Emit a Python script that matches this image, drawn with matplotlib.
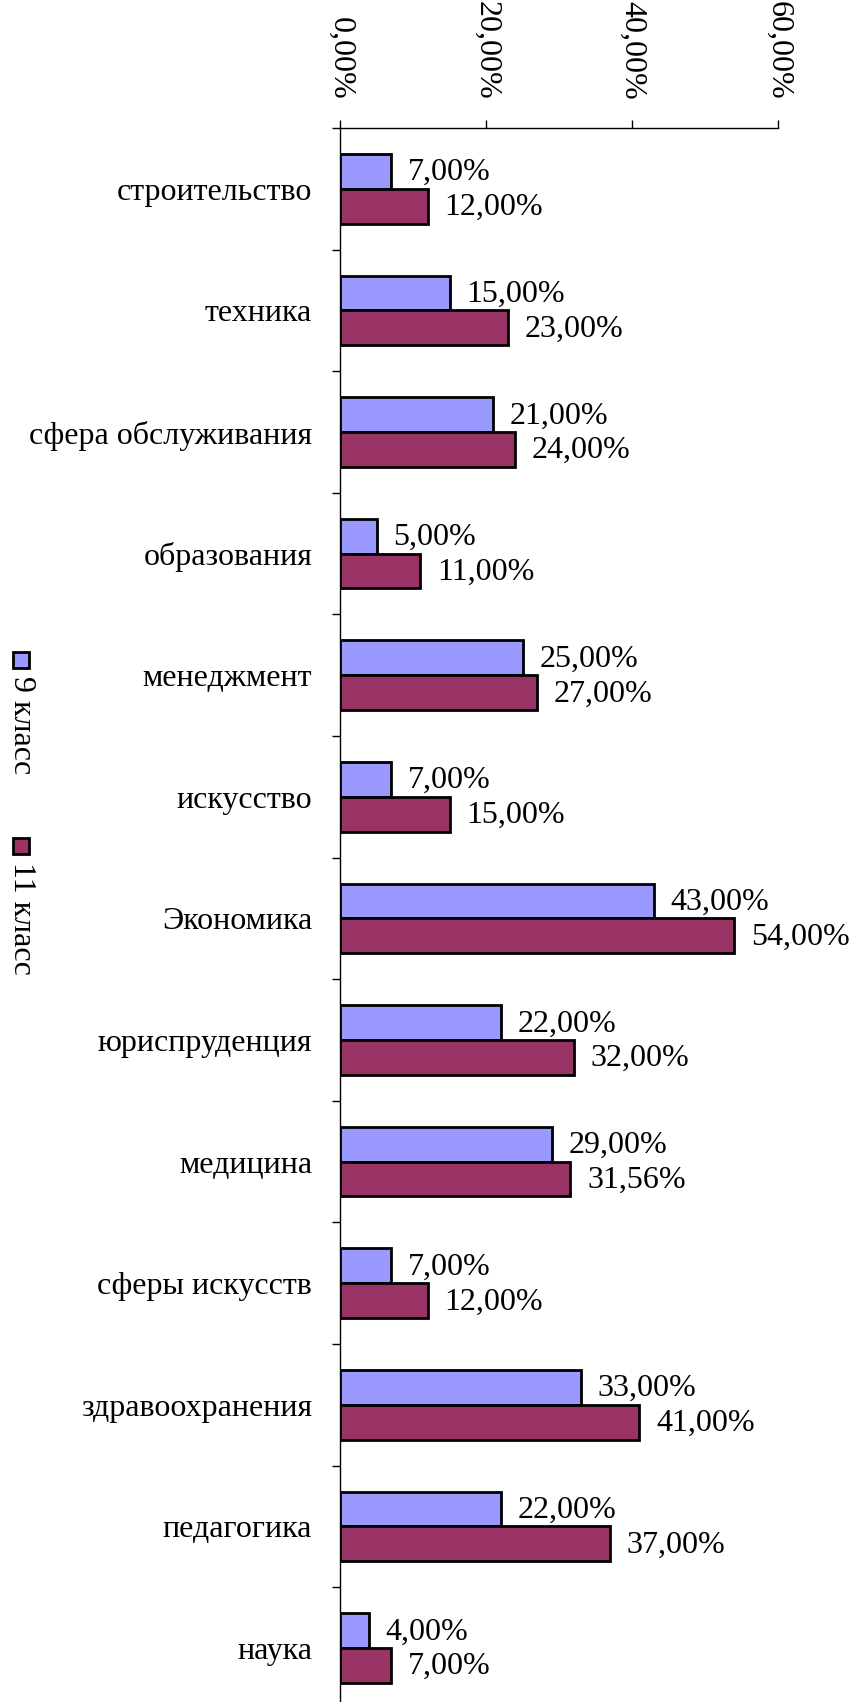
import numpy as np
import matplotlib
matplotlib.use("Agg")
import matplotlib.pyplot as plt
from matplotlib.patches import Rectangle

# данные
categories = ["строительство", "техника", "сфера обслуживания", "образования",
              "менеджмент", "искусство", "Экономика", "юриспруденция", "медицина",
              "сферы искусств", "здравоохранения", "педагогика", "наука"]
grade9 = [7, 15, 21, 5, 25, 7, 43, 22, 29, 7, 33, 22, 4]
grade11 = [12, 23, 24, 11, 27, 15, 54, 32, 31.56, 12, 41, 37, 7]
series_names = ["9 класс", "11 класс"]
x_ticks = [0, 20, 40, 60]

colors = ["#9999FF", "#993366"]

plt.rcParams['font.family'] = ['Liberation Serif', 'DejaVu Serif']
FS = 23

W, H = 852, 1702
fig = plt.figure(figsize=(W / 100, H / 100), dpi=100)

# оси: сверху 128px, слева 340px, категории по 121.6px
top_px, left_px, right_px = 128, 340, 778
cat_h = 121.6
ax_h = cat_h * len(categories)
ax = fig.add_axes([left_px / W, (H - top_px - ax_h) / H,
                   (right_px - left_px) / W, ax_h / H])

y = np.arange(len(categories))
bh = 0.286
b1 = ax.barh(y - bh / 2, grade9, height=bh, color=colors[0],
             edgecolor="black", linewidth=2)
b2 = ax.barh(y + bh / 2, grade11, height=bh, color=colors[1],
             edgecolor="black", linewidth=2)

def fmt(v):
    return f"{v:.2f}%".replace(".", ",")

for bars, vals in [(b1, grade9), (b2, grade11)]:
    for bar, v in zip(bars, vals):
        ax.annotate(fmt(v), (v, bar.get_y() + bar.get_height() / 2),
                    xytext=(12, -1), textcoords="offset points",
                    ha="left", va="center", fontsize=FS)

ax.set_xlim(0, 60)
ax.set_ylim(len(categories) - 0.5, -0.5)

ax.xaxis.tick_top()
ax.set_xticks(x_ticks)
ax.set_xticklabels([fmt(t) for t in x_ticks], rotation=270, fontsize=FS)
ax.tick_params(axis="x", direction="out", length=6, width=1, pad=14)

ax.set_yticks(y)
ax.set_yticklabels(categories, fontsize=FS)
ax.set_yticks(np.arange(len(categories) + 1) - 0.5, minor=True)
ax.tick_params(axis="y", which="major", length=0, pad=20)
ax.tick_params(axis="y", which="minor", direction="out", length=6, width=1)

for s in ["right", "bottom"]:
    ax.spines[s].set_visible(False)
for s in ["left", "top"]:
    ax.spines[s].set_linewidth(1)

# легенда слева, повёрнутая
leg_items = [(652, series_names[0], colors[0]), (838, series_names[1], colors[1])]
for ytop, name, c in leg_items:
    sq = 16
    fig.patches.append(Rectangle((13 / W, (H - ytop - sq) / H), sq / W, sq / H,
                                 transform=fig.transFigure, facecolor=c,
                                 edgecolor="black", linewidth=2))
    fig.text(21 / W, (H - ytop - sq - 8) / H, name, rotation=270,
             ha="center", va="top", fontsize=FS)

fig.savefig("out.png", dpi=100)
